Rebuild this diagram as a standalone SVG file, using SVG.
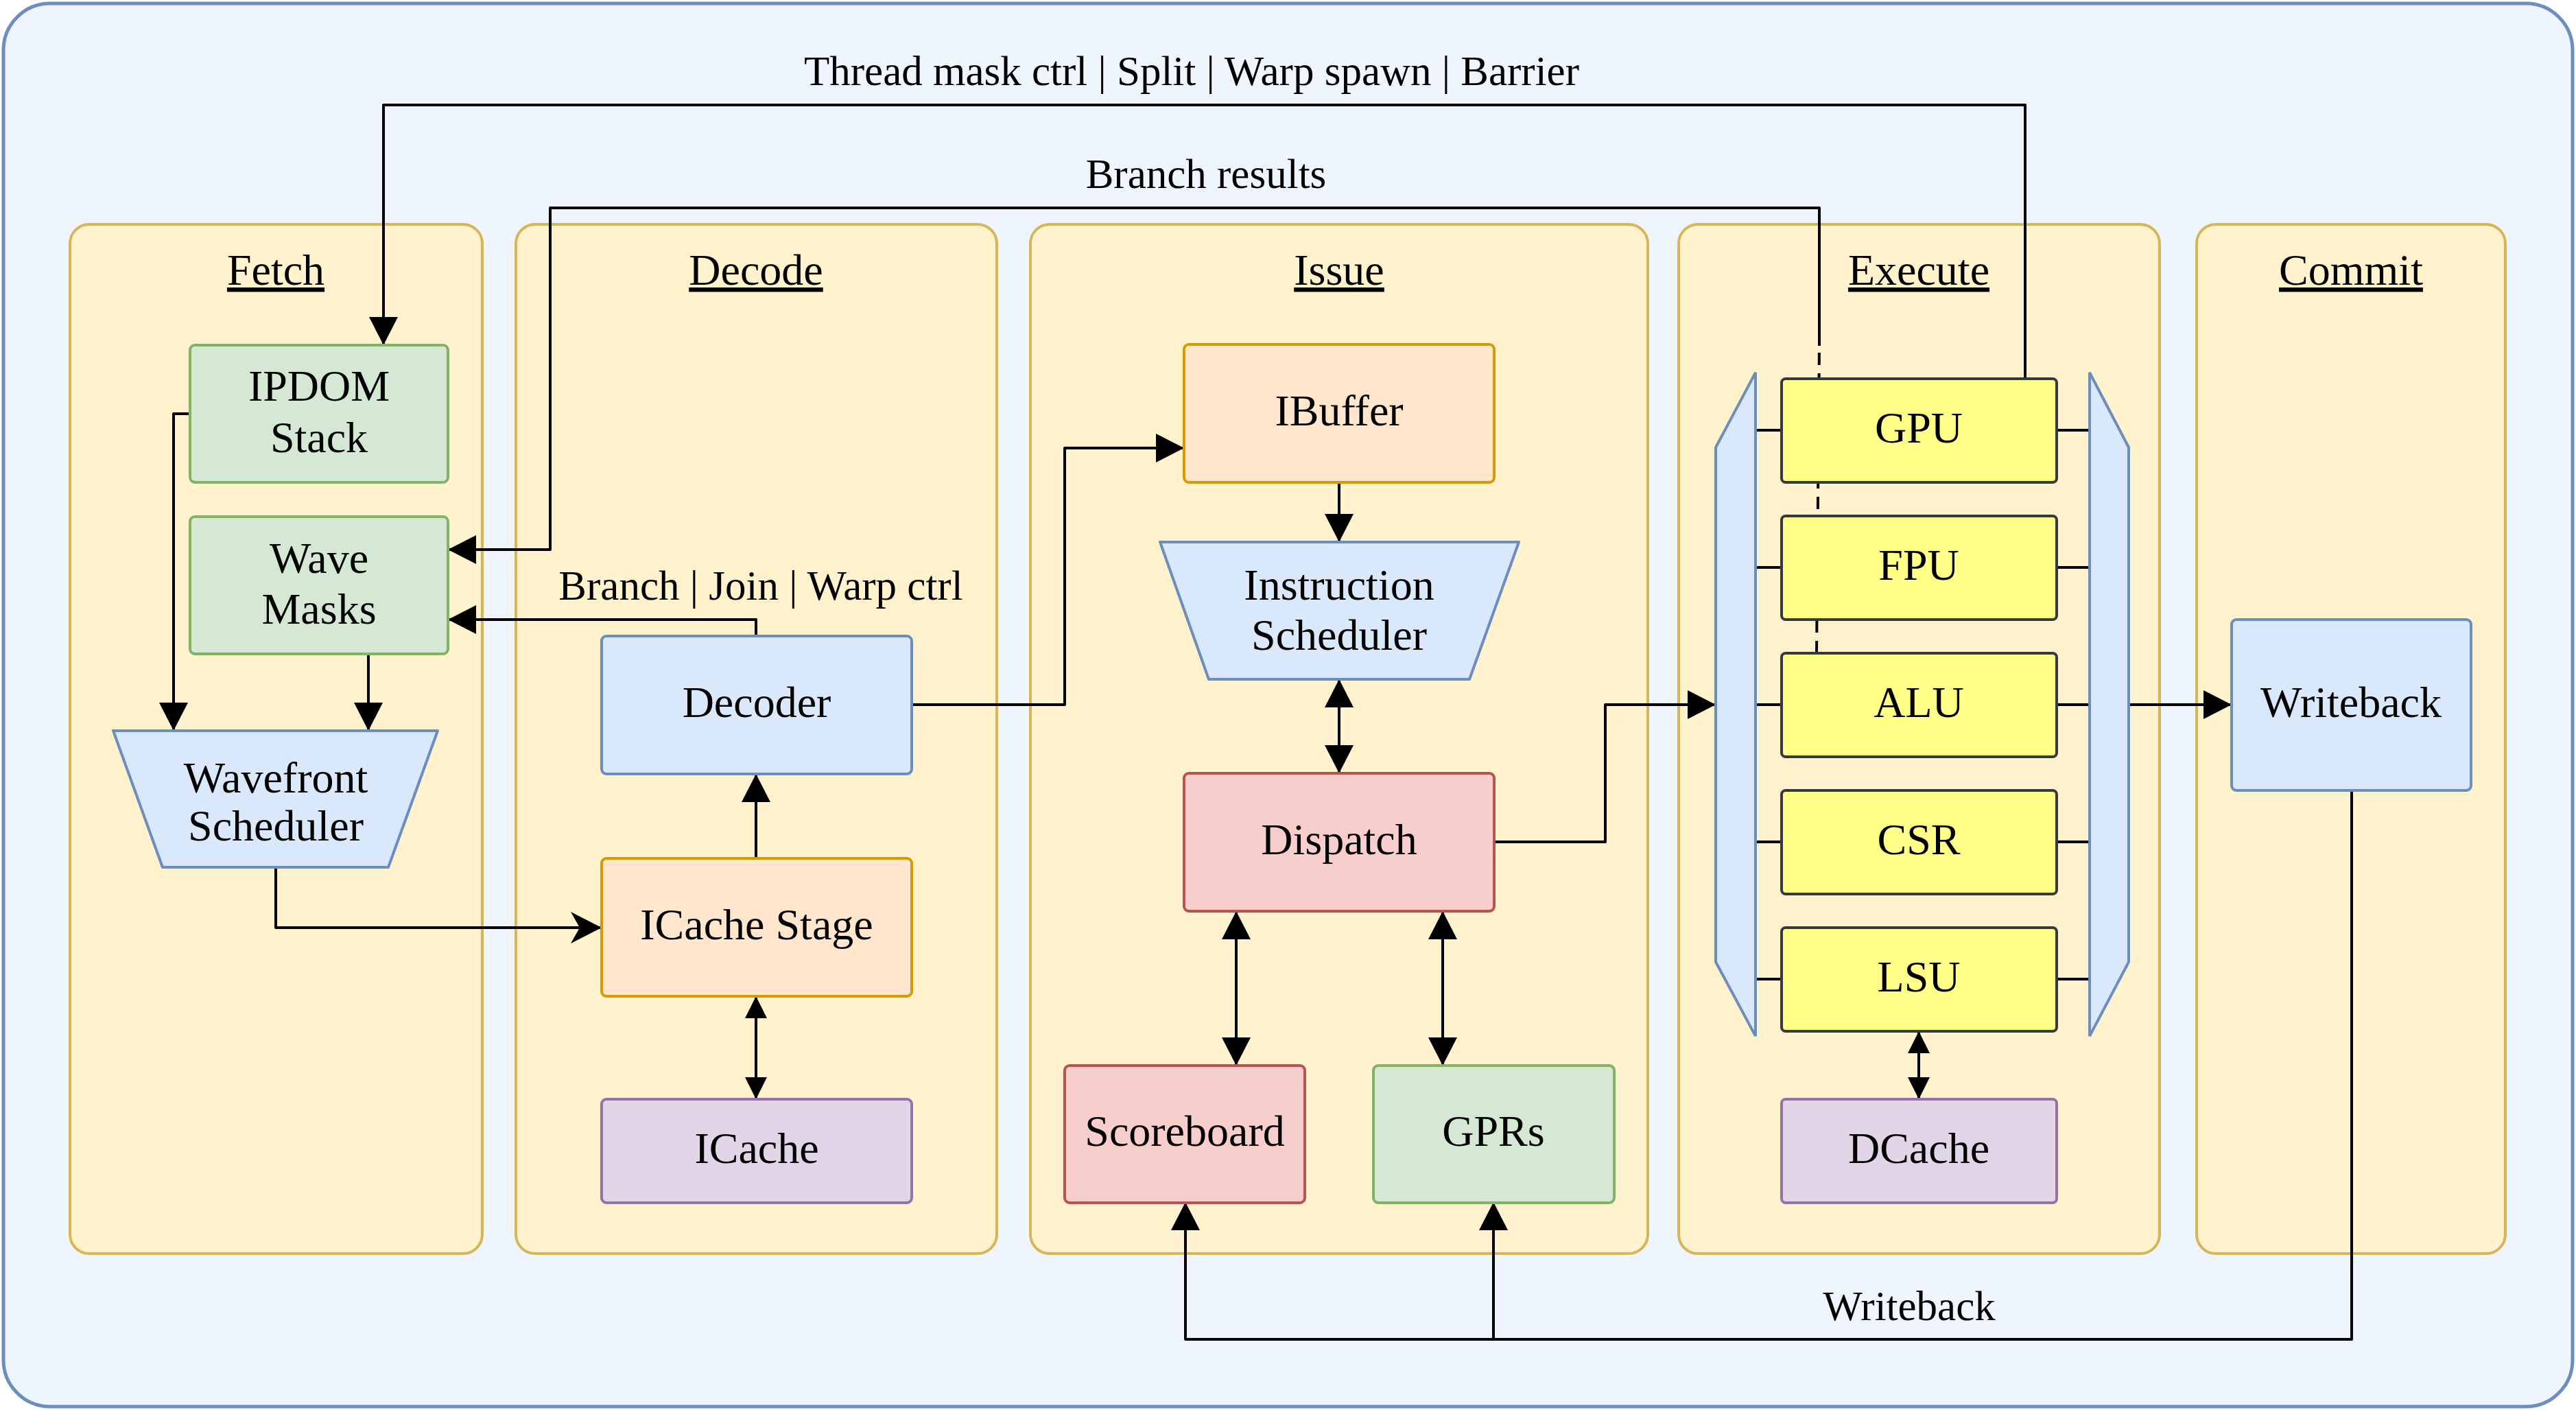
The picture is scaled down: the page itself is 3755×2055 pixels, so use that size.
<svg xmlns="http://www.w3.org/2000/svg" width="3755" height="2055" viewBox="0 0 3755 2055">
<defs>
<style>
text{font-family:"Liberation Serif","Times New Roman",serif;fill:#000;}
.lbl{font-size:64px;text-anchor:middle;}
.title{font-size:64px;text-anchor:middle;text-decoration:underline;}
.elbl{font-size:61px;text-anchor:middle;}
.lane{fill:#fff2cc;stroke:#d6b656;stroke-width:4;}
.green{fill:#d5e8d4;stroke:#82b366;stroke-width:4;}
.blue{fill:#dae8fc;stroke:#6c8ebf;stroke-width:4;}
.orange{fill:#ffe6cc;stroke:#d79b00;stroke-width:4;}
.purple{fill:#e1d5e7;stroke:#9673a6;stroke-width:4;}
.red{fill:#f8cecc;stroke:#b85450;stroke-width:4;}
.yellow{fill:#ffff88;stroke:#36393d;stroke-width:4;}
.mux{fill:#dae8fc;stroke:#6c8ebf;stroke-width:4;stroke-linejoin:miter;}
.edge{fill:none;stroke:#000;stroke-width:4;stroke-linejoin:round;}
.dash{fill:none;stroke:#000;stroke-width:4;stroke-dasharray:18 12;}
.arr{marker-end:url(#blk);}
.dbl{marker-start:url(#blk);marker-end:url(#blk);}
.dbls{marker-start:url(#sml);marker-end:url(#sml);}
</style>
<marker id="blk" markerUnits="userSpaceOnUse" markerWidth="42" markerHeight="42" viewBox="0 0 41 42" refX="41" refY="21" orient="auto-start-reverse">
<path d="M0,0 L41,21 L0,42 Z" fill="#000"/>
</marker>
<marker id="sml" markerUnits="userSpaceOnUse" markerWidth="32" markerHeight="32" viewBox="0 0 32 32" refX="32" refY="16" orient="auto-start-reverse">
<path d="M0,0 L32,16 L0,32 Z" fill="#000"/>
</marker>
<marker id="cls" markerUnits="userSpaceOnUse" markerWidth="45" markerHeight="46" viewBox="0 0 45 46" refX="45" refY="23" orient="auto">
<path d="M0,0 L45,23 L0,46 L13,23 Z" fill="#000"/>
</marker>
</defs>

<rect id="background" x="5" y="5" width="3745" height="2045" rx="68" ry="68" fill="#eef5ff" stroke="#6c8ebf" stroke-width="5"/>

<g id="lanes">
<g id="lane-fetch"><rect class="lane" x="102" y="327" width="601" height="1500" rx="28"/><text class="title" x="402" y="415">Fetch</text></g>
<g id="lane-decode"><rect class="lane" x="752" y="327" width="701" height="1500" rx="28"/><text class="title" x="1102" y="415">Decode</text></g>
<g id="lane-issue"><rect class="lane" x="1502" y="327" width="900" height="1500" rx="28"/><text class="title" x="1952" y="415">Issue</text></g>
<g id="lane-execute"><rect class="lane" x="2447" y="327" width="701" height="1500" rx="28"/><text class="title" x="2797" y="415">Execute</text></g>
<g id="lane-commit"><rect class="lane" x="3202" y="327" width="450" height="1500" rx="28"/><text class="title" x="3427" y="415">Commit</text></g>
</g>

<g id="connectors">
<path class="edge arr" d="M2952,552 V153 H559 V503"/>
<text class="elbl" x="1737" y="124">Thread mask ctrl | Split | Warp spawn | Barrier</text>
<path class="dash" d="M2648,952 L2652,502"/>
<path class="edge arr" d="M2652,504 V303 H802 V801 H653"/>
<text class="elbl" x="1758" y="274">Branch results</text>
<path class="edge arr" d="M1102,927 V903 H653"/>
<text class="elbl" x="1109" y="874">Branch | Join | Warp ctrl</text>
<path class="edge arr" d="M277,603 H253 V1065"/>
<path class="edge arr" d="M537,953 V1065"/>
<path class="edge" style="marker-end:url(#cls)" d="M402,1264 V1352 H877"/>
<path class="edge arr" d="M1102,1251 V1128"/>
<path class="edge dbls" d="M1102,1452 V1602"/>
<path class="edge arr" d="M1329,1027 H1552 V653 H1726"/>
<path class="edge arr" d="M1952,703 V790"/>
<path class="edge dbl" d="M1952,990 V1127"/>
<path class="edge dbl" d="M1802,1328 V1553"/>
<path class="edge dbl" d="M2103,1328 V1553"/>
<path class="edge arr" d="M2178,1227 H2340 V1027 H2501"/>
<path class="edge arr" d="M3103,1027 H3253"/>
<path class="edge arr" d="M3428,1152 V1952 H1728 V1752"/>
<path class="edge arr" d="M2177,1952 V1752"/>
<text class="elbl" x="2783" y="1924">Writeback</text>
<path class="edge dbls" d="M2797,1503 V1602"/>
<path class="edge" d="M2559,627 H2597 M2998,627 H3046 M2559,827 H2597 M2998,827 H3046 M2559,1027 H2597 M2998,1027 H3046 M2559,1227 H2597 M2998,1227 H3046 M2559,1427 H2597 M2998,1427 H3046"/>
</g>

<g id="nodes">
<g id="ipdom"><rect class="green" x="277" y="503" width="376" height="200" rx="7"/><text class="lbl" x="465" y="584">IPDOM</text><text class="lbl" x="465" y="659">Stack</text></g>
<g id="wave-masks"><rect class="green" x="277" y="753" width="376" height="200" rx="7"/><text class="lbl" x="465" y="835">Wave</text><text class="lbl" x="465" y="909">Masks</text></g>
<g id="wavefront-scheduler"><path class="blue" stroke-linejoin="round" d="M165,1065 H638 L566,1264 H237 Z"/><text class="lbl" x="402" y="1155">Wavefront</text><text class="lbl" x="402" y="1225">Scheduler</text></g>
<g id="decoder"><rect class="blue" x="877" y="927" width="452" height="201" rx="7"/><text class="lbl" x="1103" y="1045">Decoder</text></g>
<g id="icache-stage"><rect class="orange" x="877" y="1251" width="452" height="201" rx="7"/><text class="lbl" x="1103" y="1369">ICache Stage</text></g>
<g id="icache"><rect class="purple" x="877" y="1602" width="452" height="151" rx="7"/><text class="lbl" x="1103" y="1695">ICache</text></g>
<g id="ibuffer"><rect class="orange" x="1726" y="502" width="452" height="201" rx="7"/><text class="lbl" x="1952" y="620">IBuffer</text></g>
<g id="instruction-scheduler"><path class="blue" stroke-linejoin="round" d="M1691,790 H2214 L2142,990 H1762 Z"/><text class="lbl" x="1952" y="874">Instruction</text><text class="lbl" x="1952" y="947">Scheduler</text></g>
<g id="dispatch"><rect class="red" x="1726" y="1127" width="452" height="201" rx="7"/><text class="lbl" x="1952" y="1245">Dispatch</text></g>
<g id="scoreboard"><rect class="red" x="1552" y="1553" width="350" height="200" rx="7"/><text class="lbl" x="1727" y="1670">Scoreboard</text></g>
<g id="gprs"><rect class="green" x="2002" y="1553" width="351" height="200" rx="7"/><text class="lbl" x="2177" y="1670">GPRs</text></g>
<g id="mux-in"><polygon class="mux" points="2559,543 2559,1510 2501,1402 2501,652"/></g>
<g id="mux-out"><polygon class="mux" points="3046,543 3103,652 3103,1402 3046,1510"/></g>
<g id="gpu"><rect class="yellow" x="2597" y="552" width="401" height="151" rx="6"/><text class="lbl" x="2797" y="645">GPU</text></g>
<g id="fpu"><rect class="yellow" x="2597" y="752" width="401" height="151" rx="6"/><text class="lbl" x="2797" y="845">FPU</text></g>
<g id="alu"><rect class="yellow" x="2597" y="952" width="401" height="151" rx="6"/><text class="lbl" x="2797" y="1045">ALU</text></g>
<g id="csr"><rect class="yellow" x="2597" y="1152" width="401" height="151" rx="6"/><text class="lbl" x="2797" y="1245">CSR</text></g>
<g id="lsu"><rect class="yellow" x="2597" y="1352" width="401" height="151" rx="6"/><text class="lbl" x="2797" y="1445">LSU</text></g>
<g id="dcache"><rect class="purple" x="2597" y="1602" width="401" height="151" rx="6"/><text class="lbl" x="2797" y="1695">DCache</text></g>
<g id="writeback"><rect class="blue" x="3253" y="903" width="349" height="249" rx="7"/><text class="lbl" x="3427" y="1045">Writeback</text></g>
</g>
</svg>
